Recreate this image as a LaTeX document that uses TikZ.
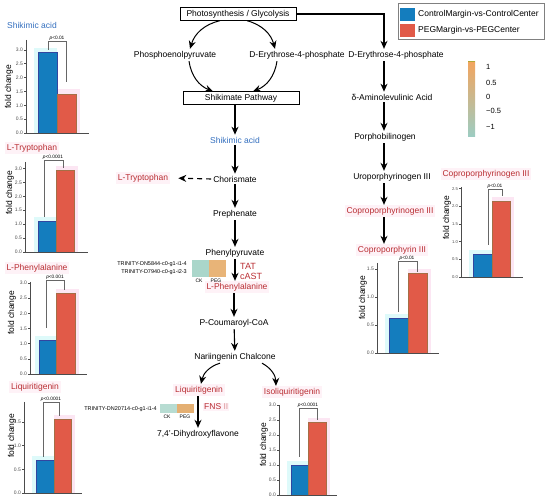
\documentclass[tikz,border=0pt]{standalone}
\usepackage{fontspec}
\setmainfont{Liberation Sans}
\usetikzlibrary{arrows.meta,positioning}
\definecolor{titleblue}{RGB}{50,110,190}
\definecolor{labelred}{RGB}{185,45,50}
\definecolor{pinkhl}{RGB}{254,242,247}
\definecolor{cmblue}{RGB}{20,125,190}
\definecolor{cmedge}{RGB}{50,70,160}
\definecolor{pegred}{RGB}{225,90,72}
\definecolor{pegedge}{RGB}{165,110,70}
\definecolor{halocyan}{RGB}{222,250,250}
\definecolor{halopink}{RGB}{252,230,243}
\definecolor{ckcell}{RGB}{170,214,202}
\definecolor{pegcell}{RGB}{232,180,120}
\definecolor{cbtop}{RGB}{242,165,95}
\definecolor{cbbot}{RGB}{156,205,195}
\begin{document}
\begin{tikzpicture}[x=1pt,y=-1pt,>={Stealth[length=8pt,width=7pt]},font=\fontsize{8.5}{10}\selectfont,node distance=36pt]

    % Define node styles
    \tikzstyle{path_box} = [draw, minimum width=116pt, minimum height=13pt, inner sep=1pt, text centered]
    \tikzstyle{step_node} = [inner sep=2pt, text centered]
    \tikzstyle{red_node} = [step_node, text=labelred, fill=pinkhl]
    \tikzstyle{blue_node} = [step_node, text=titleblue]
    \tikzstyle{flow} = [->, black, line width=1.1pt]
    \tikzstyle{curve_flow} = [->, black, line width=1pt]
    \tikzstyle{axis_line} = [line width=0.6pt, black!70]
    \tikzstyle{tick_label} = [anchor=east, inner sep=0.8pt, font=\fontsize{5}{5}\selectfont]
    \tikzstyle{bracket} = [line width=0.5pt, black!60]
    \tikzstyle{p_label} = [anchor=south, inner sep=0.5pt, font=\fontsize{4.8}{5}\selectfont]
    \tikzstyle{fold_label} = [rotate=90, inner sep=0pt]
    \tikzstyle{cm_bar} = [fill=cmblue, draw=cmedge, line width=0.6pt]
    \tikzstyle{peg_bar} = [fill=pegred, draw=pegedge, line width=0.6pt]
    \tikzstyle{hm_cell} = [minimum width=17pt, minimum height=17pt, inner sep=0pt]
    \tikzstyle{hm_label} = [anchor=east, inner sep=0pt, font=\fontsize{5.5}{6}\selectfont]
    \tikzstyle{hm_key} = [inner sep=0pt, font=\fontsize{5}{5}\selectfont]

    \useasboundingbox (0,0) rectangle (550,500);

    % Draw nodes
    \node [path_box] (photo) at (238,14) {Photosynthesis / Glycolysis};
    \node [step_node] (pep) at (175,55) {Phosphoenolpyruvate};
    \node [step_node] (de4pa) at (297,55) {D-Erythrose-4-phosphate};
    \node [path_box] (shikpath) at (241,98) {Shikimate Pathway};
    \node [blue_node] (sacid) at (235,140) {Shikimic acid};
    \node [step_node, below of=sacid, yshift=-3pt] (chor) {Chorismate};
    \node [red_node] (trp) at (143,178) {L-Tryptophan};
    \node [step_node, below of=chor, yshift=1pt] (preph) {Prephenate};
    \node [step_node, below of=preph, yshift=-3pt] (phpyr) {Phenylpyruvate};
    \node [red_node, below of=phpyr, xshift=2pt, yshift=2pt] (lphe) {L-Phenylalanine};
    \node [step_node, below of=lphe, xshift=-3pt] (coum) {P-Coumaroyl-CoA};
    \node [step_node, below of=coum, xshift=1pt, yshift=2pt] (narin) {Nariingenin Chalcone};
    \node [red_node] (liq) at (199,390) {Liquiritigenin};
    \node [red_node] (isoliq) at (292,392) {Isoliquiritigenin};
    \node [step_node] (dhf) at (198,434) {7,4'-Dihydroxyflavone};
    \node [text=labelred, anchor=west, inner sep=0pt, font=\fontsize{9}{10}\selectfont, align=left] (tat) at (240,271) {TAT\\cAST};
    \node [text=labelred, fill=pinkhl, anchor=west, inner sep=1pt] (fns) at (203,407) {FNS \textcolor{labelred!50}{II}};

    \coordinate (rcol) at (384,0);
    \node [step_node] (de4pb) at (396,55) {D-Erythrose-4-phosphate};
    \node [step_node] (ala) at (392,97) {δ-Aminolevulinic Acid};
    \node [step_node] (pbg) at (385,137) {Porphobilinogen};
    \node [step_node] (uro) at (392,177) {Uroporphyrinogen III};
    \node [red_node] (cpg) at (390,211) {Coproporphyrinogen III};
    \node [red_node] (cp) at (392,250) {Coproporphyrin III};

    % Draw arrows
    \draw [curve_flow] ([xshift=-18pt]photo.south) to[bend right=30] ([xshift=15pt]pep.north);
    \draw [curve_flow] ([xshift=9pt]photo.south) to[bend left=30] ([xshift=-22pt]de4pa.north);
    \draw [curve_flow] ([xshift=14pt]pep.south) to[bend right=30] ([xshift=-28pt]shikpath.north);
    \draw [curve_flow] ([xshift=-20pt]de4pa.south) to[bend left=30] ([xshift=12pt]shikpath.north);
    \draw [flow] (shikpath.south -| sacid) -- (sacid);
    \draw [flow] (sacid) -- (chor);
    \draw [flow, dash pattern=on 5pt off 4pt, shorten >=8pt] (chor.west) -- (trp.east);
    \draw [flow] (chor) -- (preph);
    \draw [flow] (preph) -- (phpyr);
    \draw [flow] (phpyr) -- (lphe.north -| phpyr);
    \draw [flow] (lphe.south -| coum) -- (coum);
    \draw [flow] (coum) -- (narin);
    \draw [curve_flow] ([xshift=-15pt]narin.south) to[bend right=30] ([xshift=2pt]liq.north);
    \draw [curve_flow] ([xshift=27pt]narin.south) to[bend left=30] ([xshift=-16pt]isoliq.north);
    \draw [flow] (liq.south -| dhf) -- (dhf);

    \draw [flow] (photo.east) -| (de4pb.north -| rcol);
    \draw [flow] (de4pb.south -| rcol) -- (ala.north -| rcol);
    \draw [flow] (ala.south -| rcol) -- (pbg.north -| rcol);
    \draw [flow] (pbg.south -| rcol) -- (uro.north -| rcol);
    \draw [flow] (uro.south -| rcol) -- (cpg.north -| rcol);
    \draw [flow] (cpg.south -| rcol) -- (cp.north -| rcol);

    % Heatmaps
    \node [hm_cell, fill=ckcell] (hmck) at (200,268.5) {};
    \node [hm_cell, fill=pegcell, right=0pt of hmck] (hmpeg) {};
    \node [hm_label] (gene1) at (187,264) {TRINITY-DN5844-c0-g1-i1-4};
    \node [hm_label] (gene2) at (187,272) {TRINITY-D7940-c0-g1-i2-3};
    \node [hm_key] (ck1) at (199,281) {CK};
    \node [hm_key] (peg1) at (216,281) {PEG};

    \node [hm_cell, minimum height=9pt, fill=ckcell!85!white] (hmck2) at (168.5,408.5) {};
    \node [hm_cell, minimum height=9pt, fill=pegcell!90!brown, right=0pt of hmck2] (hmpeg2) {};
    \node [hm_label] (gene3) at (157,409) {TRINITY-DN20714-c0-g1-i1-4};
    \node [hm_key] (ck2) at (167,417) {CK};
    \node [hm_key] (peg2) at (185,417) {PEG};

    % Legend and colour bar
    \draw [black!50, line width=1pt, fill=white] (398,4) rectangle (544,40);
    \fill [cmblue] (400,8) rectangle (415,21);
    \fill [pegred] (400,24) rectangle (415,37);
    \node [anchor=west, inner sep=0pt] (leg1) at (418,14.5) {ControlMargin-vs-ControlCenter};
    \node [anchor=west, inner sep=0pt] (leg2) at (418,30.5) {PEGMargin-vs-PEGCenter};

    \shade [top color=cbtop, middle color=white, bottom color=cbbot] (468,62) rectangle (475,137);
    \draw [olive!70, line width=1pt] (468,62) -- (475,62);
    \node [anchor=west, inner sep=0pt, font=\fontsize{7.5}{8}\selectfont] (cb1) at (486,67) {1};
    \node [anchor=west, inner sep=0pt, font=\fontsize{7.5}{8}\selectfont] (cb2) at (486,83) {0.5};
    \node [anchor=west, inner sep=0pt, font=\fontsize{7.5}{8}\selectfont] (cb3) at (486,97) {0};
    \node [anchor=west, inner sep=0pt, font=\fontsize{7.5}{8}\selectfont] (cb4) at (486,111) {−0.5};
    \node [anchor=west, inner sep=0pt, font=\fontsize{7.5}{8}\selectfont] (cb5) at (486,127) {−1};

    % Chart titles and axis labels
    \node [blue_node] (t_sacid) at (32,25) {Shikimic acid};
    \node [red_node] (t_trp) at (32,148) {L-Tryptophan};
    \node [red_node] (t_lphe) at (37,268) {L-Phenylalanine};
    \node [red_node] (t_liq) at (35,387) {Liquiritigenin};
    \node [red_node] (t_cpg) at (486,174) {Coproporphyrinogen III};
    \node [fold_label] (f1) at (9,87) {fold change};
    \node [fold_label] (f2) at (10,193) {fold change};
    \node [fold_label] (f3) at (12,313) {fold change};
    \node [fold_label] (f4) at (12,436) {fold change};
    \node [fold_label] (f5) at (447,218) {fold change};
    \node [fold_label] (f6) at (363,298) {fold change};
    \node [fold_label] (f7) at (264,445) {fold change};

    % Shikimic acid chart
    \begin{scope}[shift={(26,133)}]
        \fill [halocyan] (8,-85) rectangle (31,0);
        \fill [halopink] (31,-44) rectangle (54,0);
        \draw [cm_bar] (12,-80.3) rectangle (31,0);
        \draw [peg_bar] (31,-38.8) rectangle (50,0);
        \draw [axis_line] (0,-93) -- (0,0) -- (63,0);
        \foreach \v in {0.0,0.5,1.0,1.5,2.0,2.5,3.0}
            \draw [axis_line] (0,-\v*27.7) -- (-2,-\v*27.7) node [tick_label] {\v};
        \draw [bracket] (22,-83) |- (40,-92) -- (40,-51);
        \node [p_label] (p1) at (31,-92) {\textit{p}<0.01};
    \end{scope}

    % L-Tryptophan chart
    \begin{scope}[shift={(25,252)}]
        \fill [halocyan] (9,-35) rectangle (31,0);
        \fill [halopink] (31,-86) rectangle (53,0);
        \draw [cm_bar] (13,-30.6) rectangle (31,0);
        \draw [peg_bar] (31,-82) rectangle (49,0);
        \draw [axis_line] (0,-90) -- (0,0) -- (63,0);
        \foreach \v in {0.0,0.5,1.0,1.5,2.0,2.5,3.0}
            \draw [axis_line] (0,-\v*27.8) -- (-2,-\v*27.8) node [tick_label] {\v};
        \draw [bracket] (19,-35) |- (38,-92) -- (38,-84);
        \node [p_label] (p2) at (28,-92) {\textit{p}<0.0001};
    \end{scope}

    % L-Phenylalanine chart
    \begin{scope}[shift={(30,374)}]
        \fill [halocyan] (5,-38) rectangle (26,0);
        \fill [halopink] (26,-85) rectangle (49,0);
        \draw [cm_bar] (9,-34) rectangle (26,0);
        \draw [peg_bar] (26,-80.3) rectangle (45,0);
        \draw [axis_line] (0,-92) -- (0,0) -- (57,0);
        \foreach \v in {0.0,0.5,1.0,1.5,2.0,2.5,3.0}
            \draw [axis_line] (0,-\v*30.3) -- (-2,-\v*30.3) node [tick_label] {\v};
        \draw [bracket] (16,-46) |- (34,-94) -- (34,-84);
        \node [p_label] (p3) at (25,-94) {\textit{p}<0.001};
    \end{scope}

    % Liquiritigenin chart
    \begin{scope}[shift={(24,493)}]
        \fill [halocyan] (8,-37) rectangle (30,0);
        \fill [halopink] (30,-78) rectangle (51,0);
        \draw [cm_bar] (12,-33.1) rectangle (30,0);
        \draw [peg_bar] (30,-73.3) rectangle (47,0);
        \draw [axis_line] (0,-91) -- (0,0) -- (58,0);
        \foreach \v in {0.0,0.5,1.0,1.5}
            \draw [axis_line] (0,-\v*47.3) -- (-2,-\v*47.3) node [tick_label] {\v};
        \draw [bracket] (19,-36) |- (35,-91) -- (35,-77);
        \node [p_label] (p4) at (27,-91) {\textit{p}<0.0001};
    \end{scope}

    % Coproporphyrinogen III chart
    \begin{scope}[shift={(461,277)}]
        \fill [halocyan] (8,-27) rectangle (31,0);
        \fill [halopink] (31,-80) rectangle (53,0);
        \draw [cm_bar] (12,-23) rectangle (31,0);
        \draw [peg_bar] (31,-75.9) rectangle (49,0);
        \draw [axis_line] (0,-90) -- (0,0) -- (62,0);
        \foreach \v in {0.0,0.5,1.0,1.5,2.0,2.5}
            \draw [axis_line] (0,-\v*35.3) -- (-2,-\v*35.3) node [tick_label, font=\fontsize{4.2}{4}\selectfont] {\v};
        \draw [bracket] (27,-32) |- (41,-88) -- (41,-81);
        \node [p_label] (p5) at (34,-88) {\textit{p}<0.01};
    \end{scope}

    % Coproporphyrin III chart
    \begin{scope}[shift={(377,353)}]
        \fill [halocyan] (8,-39) rectangle (31,0);
        \fill [halopink] (31,-84) rectangle (54,0);
        \draw [cm_bar] (12,-34.7) rectangle (31,0);
        \draw [peg_bar] (31,-79.5) rectangle (50,0);
        \draw [axis_line] (0,-90) -- (0,0) -- (62,0);
        \foreach \v in {0.0,0.5,1.0,1.5}
            \draw [axis_line] (0,-\v*56) -- (-2,-\v*56) node [tick_label] {\v};
        \draw [bracket] (21,-41) |- (40,-92) -- (40,-81);
        \node [p_label] (p6) at (30,-92) {\textit{p}<0.01};
    \end{scope}

    % Isoliquiritigenin chart
    \begin{scope}[shift={(279,495)}]
        \fill [halocyan] (8,-34) rectangle (29,0);
        \fill [halopink] (29,-77) rectangle (51,0);
        \draw [cm_bar] (12,-30) rectangle (29,0);
        \draw [peg_bar] (29,-72.6) rectangle (47,0);
        \draw [axis_line] (0,-90) -- (0,0) -- (58,0);
        \foreach \v in {0.0,0.5,1.0,1.5,2.0,2.5,3.0}
            \draw [axis_line] (0,-\v*30) -- (-2,-\v*30) node [tick_label] {\v};
        \draw [bracket] (20,-38) |- (38,-87) -- (38,-75);
        \node [p_label] (p7) at (29,-87) {\textit{p}<0.0001};
    \end{scope}
\end{tikzpicture}
\end{document}
